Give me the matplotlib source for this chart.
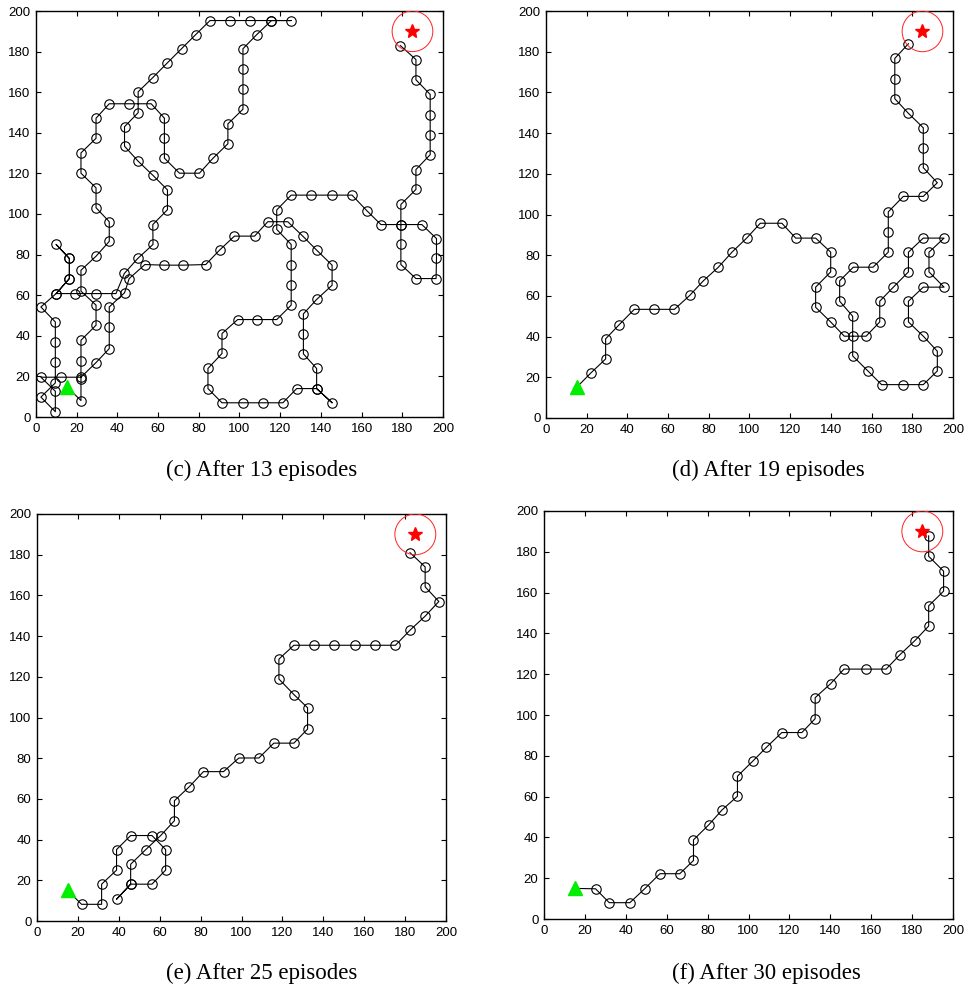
import matplotlib
matplotlib.use('Agg')
import matplotlib.pyplot as plt
from matplotlib.patches import Circle

# start, goal and goal radius (same in every panel)
start = (15, 15)
goal = (185, 190)
goal_radius = 10

# trajectory after 13 episodes (x, y), starting at the start point
path_c = [(15, 15), (22.1, 8.1), (22.1, 18.5), (22.1, 27.8), (22.1, 37.8), (29.5, 45.2),
          (29.5, 55.1), (22.1, 62.0), (22.1, 72.3), (29.5, 79.2), (36.0, 86.5), (36.0, 96.2),
          (29.5, 103.1), (29.5, 112.9), (22.1, 120.1), (22.1, 130.1), (29.5, 137.3),
          (29.5, 147.2), (36.0, 154.3), (45.8, 154.3), (56.6, 154.3), (63.1, 147.2),
          (63.1, 137.3), (63.1, 127.5), (70.5, 120.1), (80.3, 120.1), (87.0, 127.5),
          (94.3, 134.6), (94.3, 144.4), (101.7, 151.6), (101.7, 161.5), (101.7, 171.3),
          (101.7, 181.4), (108.5, 188.4), (115.7, 195.3), (125.4, 195.3), (115.7, 195.3),
          (105.0, 195.3), (95.3, 195.3), (85.5, 195.3), (78.5, 188.4), (71.5, 181.4),
          (64.6, 174.5), (57.4, 167.2), (50.2, 160.2), (50.2, 149.9), (43.5, 143.0),
          (43.5, 133.4), (50.2, 126.0), (57.4, 119.1), (64.6, 111.9), (64.6, 102.1),
          (57.4, 94.8), (57.5, 85.0), (50.0, 78.1), (43.4, 70.7), (39.3, 60.8), (29.5, 60.8),
          (19.2, 60.8), (9.9, 60.8), (16.4, 68.2), (16.4, 78.1), (9.9, 85.0), (16.4, 78.1),
          (16.4, 68.2), (9.9, 60.8), (2.4, 54.2), (9.5, 46.8), (9.5, 36.9), (9.5, 27.0),
          (9.5, 16.8), (2.4, 9.8), (9.5, 2.6), (9.5, 12.7), (2.4, 19.6), (12.3, 19.6),
          (22.1, 19.6), (29.5, 26.8), (36.0, 33.7), (36.0, 44.1), (36.0, 54.2), (43.5, 61.2),
          (45.8, 68.2), (53.5, 75.1), (62.9, 74.8), (72.3, 74.8), (83.4, 75.1), (90.2, 82.2),
          (97.5, 89.1), (107.4, 89.1), (113.9, 96.2), (123.7, 96.2), (131.1, 89.1),
          (137.9, 82.2), (145.5, 74.8), (145.5, 64.9), (137.9, 57.9), (131.4, 50.8),
          (131.4, 41.0), (131.4, 31.1), (137.9, 23.9), (137.9, 14.0), (145.5, 7.0),
          (137.9, 14.0), (128.1, 14.0), (121.3, 7.0), (111.5, 7.0), (101.7, 7.0), (91.4, 7.0),
          (84.5, 14.0), (84.5, 23.9), (91.4, 31.3), (91.4, 41.1), (99.1, 48.0), (108.5, 48.0),
          (118.3, 48.0), (125.4, 55.1), (125.4, 64.9), (125.4, 75.1), (125.4, 85.0),
          (118.3, 92.4), (118.3, 102.0), (125.4, 109.3), (135.2, 109.3), (145.3, 109.3),
          (155.3, 109.3), (162.5, 101.7), (169.5, 94.8), (179.3, 94.8), (189.6, 94.8),
          (196.8, 87.9), (196.8, 78.1), (196.6, 68.2), (186.7, 68.2), (179.3, 75.1),
          (179.3, 85.0), (179.3, 94.8), (179.3, 104.7), (186.7, 112.1), (186.7, 121.9),
          (193.7, 129.2), (193.7, 139.0), (193.7, 148.9), (193.7, 158.9), (186.7, 166.1),
          (186.7, 176.1), (179.0, 183.0)]

# trajectory after 19 episodes
path_d = [(15, 15), (22.0, 22.1), (29.3, 29.0), (29.3, 38.9), (36.0, 45.9), (43.4, 53.4),
          (53.3, 53.4), (63.1, 53.4), (70.6, 60.2), (77.3, 67.4), (84.7, 74.1), (91.4, 81.5),
          (98.6, 88.4), (105.3, 95.7), (115.9, 95.7), (122.7, 88.4), (132.5, 88.4),
          (139.9, 81.5), (139.9, 71.8), (132.5, 64.3), (132.5, 54.4), (139.9, 47.2),
          (146.6, 40.2), (157.3, 40.2), (164.0, 47.2), (164.0, 57.4), (170.7, 64.3),
          (178.1, 71.8), (178.1, 81.5), (185.4, 88.4), (195.6, 88.4), (188.2, 81.5),
          (188.2, 71.8), (195.6, 64.3), (185.4, 64.3), (178.1, 57.4), (178.1, 47.2),
          (185.4, 40.2), (192.3, 32.8), (192.3, 23.1), (185.4, 16.4), (175.6, 16.4),
          (164.9, 16.4), (158.2, 23.1), (150.7, 30.5), (150.7, 40.2), (150.7, 50.0),
          (144.3, 57.4), (144.3, 67.4), (151.0, 74.1), (160.7, 74.1), (168.2, 81.5),
          (168.2, 91.3), (168.2, 101.3), (175.6, 108.9), (185.4, 108.9), (192.3, 115.6),
          (185.4, 123.0), (185.4, 132.8), (185.4, 142.6), (178.1, 149.7), (171.4, 156.9),
          (171.4, 166.7), (171.4, 176.7), (178.1, 183.9)]

# trajectory after 25 episodes
path_e = [(15, 15), (21.8, 8.2), (31.6, 8.2), (31.6, 18.1), (38.9, 25.0), (38.9, 35.1),
          (45.8, 42.0), (56.2, 42.0), (62.9, 35.1), (62.9, 25.0), (56.2, 18.1), (45.8, 18.1),
          (38.9, 10.7), (45.8, 18.1), (45.8, 27.9), (53.2, 35.1), (60.5, 42.0), (67.2, 49.3),
          (67.2, 59.1), (74.5, 66.0), (81.4, 73.4), (91.2, 73.4), (98.7, 80.1), (108.5, 80.1),
          (115.8, 87.4), (125.6, 87.4), (132.3, 94.3), (132.3, 104.8), (125.6, 111.3),
          (118.3, 118.9), (118.3, 128.7), (125.6, 135.5), (135.6, 135.5), (145.4, 135.5),
          (155.4, 135.5), (165.3, 135.5), (175.3, 135.5), (182.4, 142.9), (189.8, 149.8),
          (196.5, 157.0), (189.8, 164.2), (189.8, 174.0), (182.4, 181.0)]

# trajectory after 30 episodes
path_f = [(15, 15), (25.2, 14.8), (31.9, 8.0), (42.0, 8.0), (49.2, 14.8), (56.7, 22.2),
          (66.4, 22.2), (73.1, 28.7), (73.1, 38.8), (80.6, 46.2), (87.1, 53.5), (94.6, 60.2),
          (94.6, 70.0), (102.0, 77.3), (108.8, 84.2), (116.3, 91.4), (126.1, 91.4),
          (132.6, 98.2), (132.6, 108.5), (140.1, 115.3), (146.7, 122.5), (157.3, 122.5),
          (167.3, 122.5), (173.9, 129.4), (181.4, 136.5), (188.1, 143.6), (188.1, 153.5),
          (195.4, 160.7), (195.4, 170.5), (188.1, 177.8), (188.1, 187.8)]

captions = ['(c) After 13 episodes', '(d) After 19 episodes',
            '(e) After 25 episodes', '(f) After 30 episodes']
paths = [path_c, path_d, path_e, path_f]

W, H = 969, 992
# axes boxes in pixels: left, right, top, bottom
boxes = [(36, 443, 11, 417), (546, 953, 11, 418), (37, 446, 514, 921), (544, 953, 511, 919)]
cap_pos = [(262, 470), (768, 470), (262, 973), (766, 973)]

fig = plt.figure(figsize=(W / 100, H / 100), dpi=100)

for path, cap, (x0, x1, yt, yb), (cx, cy) in zip(paths, captions, boxes, cap_pos):
    ax = fig.add_axes([x0 / W, 1 - yb / H, (x1 - x0) / W, (yb - yt) / H])
    xs = [p[0] for p in path]
    ys = [p[1] for p in path]
    ax.plot(xs, ys, color='black', lw=0.8, zorder=2)
    ax.plot(xs[1:], ys[1:], 'o', ms=6.8, mfc='none', mec='black', mew=0.8, zorder=3)
    ax.plot(*start, '^', ms=10, color='#00ee00', zorder=4)
    ax.plot(*goal, '*', ms=10, color='red', zorder=4)
    ax.add_patch(Circle(goal, goal_radius, fill=False, edgecolor='#ff2020', lw=0.7, zorder=4))
    ax.set_xlim(0, 200)
    ax.set_ylim(0, 200)
    ax.set_xticks(range(0, 201, 20))
    ax.set_yticks(range(0, 201, 20))
    ax.tick_params(direction='in', top=True, right=True, length=3.5, width=0.8,
                   labelsize=9.5, pad=4)
    for lab in ax.get_xticklabels() + ax.get_yticklabels():
        lab.set_fontfamily('Liberation Sans')
    for sp in ax.spines.values():
        sp.set_linewidth(1.0)
    fig.text(cx / W, 1 - cy / H, cap, ha='center', va='center',
             fontsize=16.5, family='Liberation Serif')

fig.savefig('out.png', dpi=100)
